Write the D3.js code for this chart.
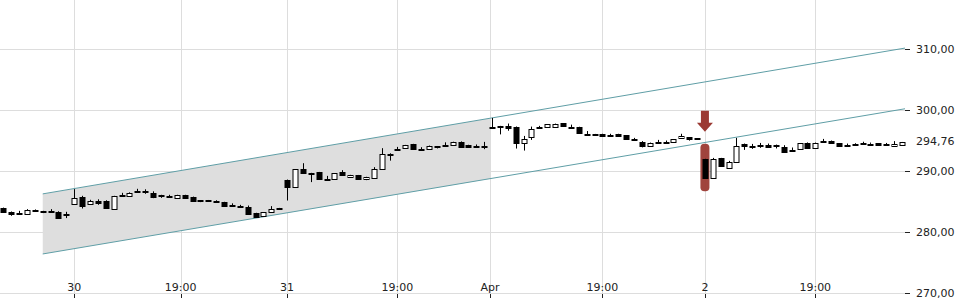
<!DOCTYPE html>
<meta charset="utf-8">
<style>
  body { margin: 0; background: #fff; }
  text { font-family: "DejaVu Sans", sans-serif; font-size: 11px; fill: #222; }
</style>
<body>
<script src="https://d3js.org/d3.v7.min.js"></script>
<script>

var width = 960,
    height = 300,
    plotRight = 905,   // right edge of the plot, axis sits here
    plotBottom = 293;

// candles: [open, high, low, close]
var candles = [
  [283.92, 284.0, 283.2, 283.26], [283.26, 283.36, 282.66, 282.93], [282.93, 283.47, 282.93, 283.05],
  [282.93, 283.75, 282.93, 283.59], [283.59, 283.7, 283.36, 283.40], [283.47, 283.47, 283.1, 283.3],
  [283.4, 283.75, 283.36, 283.5], [283.36, 283.4, 282.44, 282.44], [282.9, 283.31, 282.28, 282.75],
  // 30
  [284.62, 287.03, 284.55, 285.55], [285.72, 285.93, 283.85, 284.18], [284.5, 285.28, 284.45, 285.06],
  [285.06, 285.36, 284.46, 284.73], [285.16, 285.2, 284.0, 284.08], [283.85, 285.93, 283.85, 285.93],
  [285.93, 286.42, 285.93, 286.1], [285.93, 286.5, 285.9, 286.47], [286.63, 287.08, 286.63, 286.75],
  [286.75, 287.0, 286.26, 286.6], [286.47, 286.67, 285.55, 285.82], [286.0, 286.1, 285.6, 285.8],
  [285.8, 286.1, 285.77, 285.9], [285.65, 286.1, 285.65, 286.1], [286.1, 286.1, 285.65, 285.65],
  [285.77, 285.8, 285.1, 285.11], [285.2, 285.2, 284.9, 285.05], [285.2, 285.25, 285.05, 285.05],
  [285.15, 285.2, 284.85, 285.05], [284.9, 284.95, 284.24, 284.24], [284.25, 284.7, 284.24, 284.35],
  [284.08, 284.45, 284.08, 284.2], [284.13, 284.34, 282.9, 282.93], [283.1, 283.15, 282.4, 282.44],
  [282.61, 283.26, 282.61, 283.26], [283.26, 284.24, 283.26, 283.8], [283.8, 283.95, 283.8, 283.92],
  // 31
  [288.55, 288.6, 285.16, 287.36], [287.36, 290.3, 287.3, 290.3], [290.3, 291.28, 289.65, 289.65],
  [289.65, 289.7, 288.18, 289.6], [289.81, 289.85, 288.67, 288.67], [288.6, 289.2, 288.6, 288.7],
  [288.67, 289.65, 288.67, 289.65], [289.81, 290.14, 289.32, 289.32], [289.0, 289.37, 289.0, 289.37],
  [289.32, 289.35, 288.67, 288.67], [288.67, 289.05, 288.5, 289.05], [288.99, 290.63, 288.99, 290.4],
  [290.47, 293.74, 290.47, 292.86], [292.86, 292.9, 291.7, 292.8], [293.46, 293.95, 293.46, 293.6],
  [293.74, 294.28, 293.74, 294.28], [294.4, 294.45, 293.58, 293.58], [293.5, 293.9, 293.5, 293.65],
  [293.74, 294.17, 293.74, 294.17], [294.1, 294.1, 293.7, 293.95], [294.08, 294.7, 294.08, 294.2],
  [294.38, 294.8, 294.38, 294.8], [294.83, 294.85, 293.96, 293.96], [294.3, 294.3, 294.0, 294.0],
  [294.0, 294.35, 294.0, 294.15], [294.15, 294.77, 293.58, 294.0],
  // Apr
  [297.07, 298.7, 297.07, 297.2], [297.4, 297.4, 296.0, 297.25], [297.4, 297.78, 296.6, 297.1],
  [297.23, 297.3, 293.68, 294.66], [294.56, 295.75, 293.35, 295.21], [295.54, 297.28, 295.1, 296.85],
  [296.95, 297.4, 296.95, 297.15], [297.23, 297.67, 297.23, 297.67], [297.34, 297.77, 297.34, 297.77],
  [297.83, 297.85, 297.28, 297.28], [297.1, 297.6, 297.1, 297.25], [297.23, 297.25, 296.25, 296.25],
  [295.92, 296.55, 295.92, 296.1], [296.05, 296.08, 295.92, 295.92], [296.08, 296.1, 295.75, 295.75],
  [295.75, 296.1, 295.75, 295.9], [296.08, 296.1, 295.75, 295.75], [295.87, 295.9, 295.21, 295.21],
  [295.0, 295.43, 295.0, 295.2], [294.72, 294.9, 293.87, 294.07], [294.12, 294.66, 294.12, 294.66],
  [294.56, 295.1, 294.56, 294.75], [294.56, 295.0, 294.56, 294.7], [294.72, 295.21, 294.72, 295.21],
  [295.43, 296.1, 295.43, 295.8], [295.54, 295.56, 294.98, 295.21], [295.35, 295.35, 295.3, 295.3],
  // 2
  [291.99, 292.0, 288.88, 288.88], [288.88, 292.15, 288.88, 291.99], [292.15, 292.15, 290.79, 290.79],
  [290.4, 291.66, 290.4, 291.43], [291.45, 295.43, 291.45, 294.07], [294.44, 294.5, 293.46, 294.07],
  [294.17, 294.44, 293.63, 293.95], [294.2, 294.6, 293.8, 294.0], [294.33, 294.5, 293.8, 294.0],
  [294.33, 294.33, 293.7, 294.2], [293.9, 294.23, 293.14, 293.14], [293.26, 293.85, 293.26, 293.5],
  [293.58, 294.56, 293.58, 294.56], [294.66, 294.68, 293.9, 293.9], [293.9, 294.66, 293.9, 294.66],
  [294.77, 295.26, 294.77, 294.95], [294.98, 295.0, 294.66, 294.66], [294.56, 294.58, 294.0, 294.0],
  [294.1, 294.5, 294.1, 294.3], [294.2, 294.55, 294.2, 294.35], [294.45, 294.8, 294.45, 294.6],
  [294.5, 294.66, 294.45, 294.45], [294.56, 294.58, 294.23, 294.23], [294.23, 294.6, 294.23, 294.4],
  [294.23, 294.9, 294.23, 294.5], [294.23, 294.76, 294.23, 294.76]
];

var lastPrice = 294.76;

var yTicks = [270, 280, 290, 300, 310];

// x ticks, given as candle positions
var xTickPos = [9, 22.5, 36, 50, 61.75, 76, 89, 103];
var xTickLabels = ["30", "19:00", "31", "19:00", "Apr", "19:00", "2", "19:00"];

// trend channel: [candle position, value]
var channelUpper = [[5, 286.25], [114.38, 310.15]];
var channelLower = [[5, 276.4], [114.38, 300.2]];
var shadeEnd = 61.75;

// signal marker on candle 89
var signalIdx = 89,
    signalHigh = 294.45,
    signalLow = 286.7;

var deFormat = d3.formatLocale({ decimal: ",", thousands: ".", grouping: [3], currency: ["", " €"] }).format(".2f");

var x = d3.scaleLinear().domain([-0.42, 114.38]).range([0, plotRight]);
var y = d3.scaleLinear().domain([270, 310]).range([plotBottom, 49]);

var svg = d3.select("body").append("svg")
    .attr("width", width)
    .attr("height", height);

// grid
svg.append("g").selectAll("line")
    .data(yTicks)
  .enter().append("line")
    .attr("x1", 0).attr("x2", plotRight)
    .attr("y1", d => Math.round(y(d)) + 0.5).attr("y2", d => Math.round(y(d)) + 0.5)
    .attr("stroke", "#dddddd");

svg.append("g").selectAll("line")
    .data(xTickPos)
  .enter().append("line")
    .attr("x1", d => Math.round(x(d)) + 0.5).attr("x2", d => Math.round(x(d)) + 0.5)
    .attr("y1", 0).attr("y2", plotBottom)
    .attr("stroke", "#dddddd");

// channel shading
function lineVal(line, i) {
  var a = line[0], b = line[1];
  return a[1] + (b[1] - a[1]) * (i - a[0]) / (b[0] - a[0]);
}
var shade = [
  [channelUpper[0][0], channelUpper[0][1]],
  [shadeEnd, lineVal(channelUpper, shadeEnd)],
  [shadeEnd, lineVal(channelLower, shadeEnd)],
  [channelLower[0][0], channelLower[0][1]]
];
svg.append("path")
    .attr("d", d3.line().x(d => x(d[0])).y(d => y(d[1]))(shade) + "Z")
    .attr("fill", "#dedede");

var line = d3.line().x(d => x(d[0])).y(d => y(d[1]));
[channelUpper, channelLower].forEach(function(c) {
  svg.append("path")
      .attr("d", line(c))
      .attr("fill", "none")
      .attr("stroke", "#5f9ea6")
      .attr("stroke-width", 1);
});

// signal marker
var sx = x(signalIdx),
    red = "#9b3a33";
svg.append("rect")
    .attr("x", sx - 4.5).attr("width", 9)
    .attr("y", y(signalHigh)).attr("height", y(signalLow) - y(signalHigh))
    .attr("rx", 4).attr("ry", 4)
    .attr("fill", red).attr("opacity", 0.95);

var tipY = y(signalHigh) - 12;
svg.append("path")
    .attr("d", "M" + (sx - 4) + "," + (tipY - 21) + "H" + (sx + 4) + "V" + (tipY - 9) +
               "H" + (sx + 8) + "L" + sx + "," + tipY + "L" + (sx - 8) + "," + (tipY - 9) +
               "H" + (sx - 4) + "Z")
    .attr("fill", red);

// candles
var bw = 5;
var candle = svg.append("g").selectAll("g")
    .data(candles)
  .enter().append("g");

candle.append("line")
    .attr("x1", (d, i) => Math.round(x(i)) + 0.5)
    .attr("x2", (d, i) => Math.round(x(i)) + 0.5)
    .attr("y1", d => y(d[1]))
    .attr("y2", d => y(d[2]))
    .attr("stroke", "#000");

candle.append("rect")
    .attr("x", (d, i) => Math.round(x(i)) - 2 )
    .attr("width", bw)
    .attr("y", d => Math.round(y(Math.max(d[0], d[3]))) + 0.5)
    .attr("height", d => Math.max(1, Math.round(Math.abs(y(d[0]) - y(d[3])))))
    .attr("fill", d => d[3] >= d[0] ? "#fff" : "#000")
    .attr("stroke", "#000")
    .attr("stroke-width", 1);

// right axis
var yAxis = svg.append("g")
    .attr("transform", "translate(" + plotRight + ",0)")
    .call(d3.axisRight(y).tickValues(yTicks).tickSize(5).tickPadding(6).tickFormat(deFormat));
yAxis.select(".domain").remove();
yAxis.selectAll("line").attr("stroke", "#222");
yAxis.selectAll("text").attr("font-family", null).attr("font-size", null).attr("fill", null);

svg.append("text")
    .attr("x", plotRight + 11)
    .attr("y", y(lastPrice))
    .attr("dy", "0.32em")
    .text(deFormat(lastPrice));

// bottom axis
var xAxis = svg.append("g");
xAxis.selectAll("line")
    .data(xTickPos)
  .enter().append("line")
    .attr("x1", d => Math.round(x(d)) + 0.5).attr("x2", d => Math.round(x(d)) + 0.5)
    .attr("y1", plotBottom + 1).attr("y2", plotBottom + 5)
    .attr("stroke", "#222");
xAxis.selectAll("text")
    .data(xTickPos)
  .enter().append("text")
    .attr("x", d => x(d))
    .attr("y", plotBottom - 2)
    .attr("text-anchor", "middle")
    .text((d, i) => xTickLabels[i]);

</script>
